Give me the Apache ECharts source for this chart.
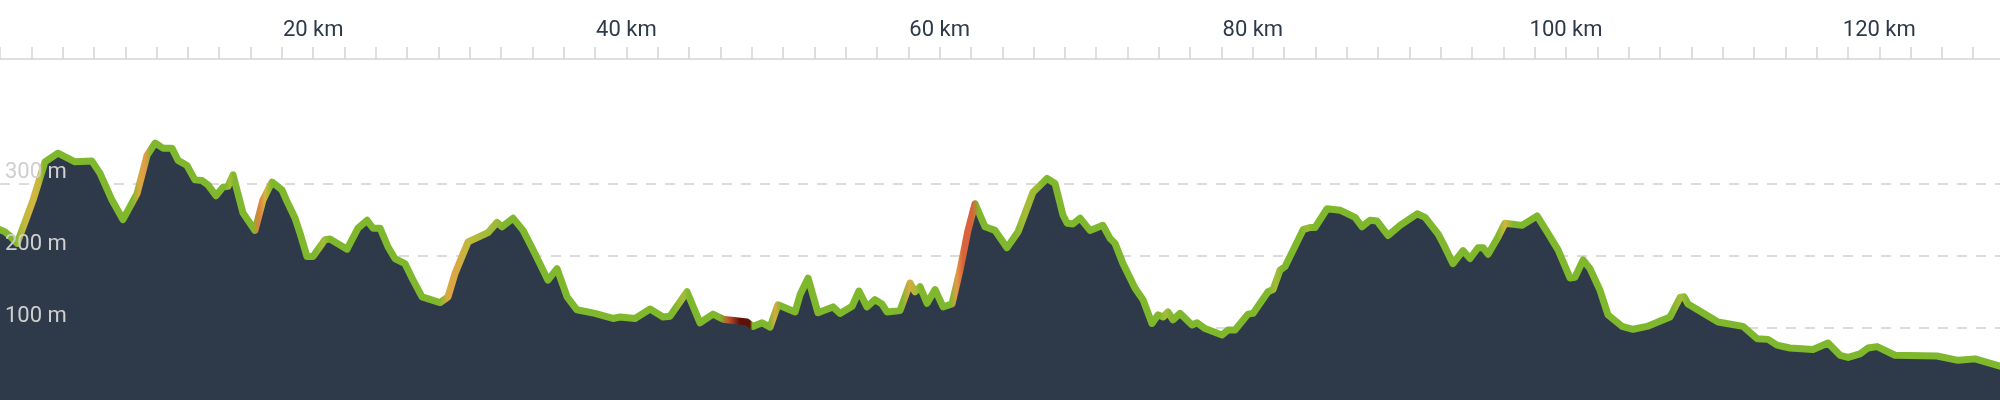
<!DOCTYPE html>
<html>
<head>
<meta charset="utf-8">
<script src="https://cdn.jsdelivr.net/npm/echarts@6/dist/echarts.min.js"></script>
<style>
html,body{margin:0;padding:0;background:#fff;}
#chart{width:2000px;height:400px;}
</style>
</head>
<body>
<div id="chart"></div>
<script>
// distance along route (km)
var distanceKm = [0,0.32,0.64,1.09,1.72,2.11,2.87,3.70,4.79,5.87,6.39,7.15,7.85,8.75,9.39,9.90,10.41,10.98,11.37,11.94,12.45,12.90,13.28,13.79,14.24,14.56,14.88,15.52,16.28,16.79,17.37,18.01,18.33,18.84,19.16,19.60,19.99,20.75,21.07,22.16,22.86,23.44,23.82,24.27,24.78,25.22,25.86,26.31,26.95,28.10,28.61,29.05,29.89,31.16,31.74,32.06,32.76,33.40,34.04,34.99,35.57,36.21,36.84,37.99,39.14,39.59,40.55,41.51,42.34,42.78,43.87,44.70,45.53,46.17,47.70,48.08,48.66,49.17,49.68,50.77,51.09,51.60,52.23,53.19,53.64,54.41,54.85,55.36,55.87,56.32,56.64,57.47,58.11,58.43,58.75,59.20,59.71,60.22,60.79,61.30,61.81,62.26,62.90,63.54,64.30,65.01,65.96,66.86,67.37,67.88,68.14,68.52,68.97,69.60,70.43,70.88,71.20,71.71,72.48,72.99,73.56,73.95,74.27,74.58,74.90,75.35,76.12,76.44,76.95,78.03,78.42,78.86,79.69,80.01,80.97,81.29,81.74,82.06,83.21,83.65,83.97,84.74,85.57,86.53,86.97,87.48,87.93,88.63,89.40,90.49,91.00,91.83,92.15,92.78,93.42,93.87,94.38,94.70,95.02,95.66,96.10,97.19,98.15,98.79,99.49,100.26,100.57,101.09,101.53,102.17,102.68,103.58,104.28,105.17,106.64,107.28,107.54,107.79,109.71,111.30,112.20,112.90,113.47,114.30,115.77,116.73,117.50,118.01,118.77,119.28,119.86,121.01,123.69,125.03,126.12,127.71];
// elevation (m)
var elevationM = [236,233,227,217,254,277,330,342,330,331,314,277,250,286,339,356,349,349,332,325,305,304,298,283,295,296,312,259,235,277,302,291,275,252,231,199,199,222,223,209,238,249,238,238,212,196,189,169,143,135,143,175,219,232,246,240,252,235,208,166,182,143,125,120,113,115,113,126,115,116,150,107,119,112,108,102,107,101,132,122,146,169,121,129,120,130,151,129,139,133,122,124,162,150,157,134,153,129,133,180,235,272,240,235,211,233,288,307,300,256,245,244,252,235,242,224,217,189,155,139,106,118,115,122,111,120,104,107,99,90,97,97,119,120,150,153,180,185,236,239,239,265,263,253,240,249,248,228,242,258,253,230,217,189,207,196,211,211,202,226,245,242,255,233,208,169,170,194,182,152,118,102,98,102,115,142,143,133,108,102,85,84,76,72,70,79,62,59,64,72,74,62,61,55,57,47];
// grade (%): [km, grade]
var gradeKm =  [0,1.1,1.7,2.3,2.8,3.0,8.6,9.1,9.5,9.8,14.6,14.85,15.1,16.3,16.7,17.1,17.5,20.3,20.8,21.2,28.2,28.7,29.3,30.0,31.0,31.8,32.2,43.1,43.7,44.0,46.0,46.6,47.3,47.95,48.1,49.2,49.55,49.9,57.6,58.1,58.5,58.8,60.7,61.1,61.5,62.1,62.5,64.7,65.5,66.2,66.6,74.0,74.4,74.8,80.9,81.4,81.8,83.0,83.4,83.8,95.5,96.0,96.5,106.6,107.2,107.6,127.71];
var gradePct = [0,0,5,6,5,0,0,7,8,0,0,4,0,0,9,6,0,0,4,0,0,7,7,5,4,3,0,0,4,0,0,12,25,25,0,0,7,0,0,7,4,0,0,8,10,10,0,0,4,3,0,0,4,0,0,4,0,0,3,0,0,6,0,0,4,0,0];
// axis ticks and labels
var yTicks = [0,100,200,300,400];
var yLabelValues = [100,200,300];
var xTickValues = [0,2,4,6,8,10,12,14,16,18,20,22,24,26,28,30,32,34,36,38,40,42,44,46,48,50,52,54,56,58,60,62,64,66,68,70,72,74,76,78,80,82,84,86,88,90,92,94,96,98,100,102,104,106,108,110,112,114,116,118,120,122,124,126];
var xLabelValues = [20,40,60,80,100,120];

var gradeScale = [[0,'#7fb82c'],[4,'#a7bb37'],[6,'#d2b640'],[8,'#e29a44'],[10,'#d9643c'],[15,'#9c3418'],[25,'#5c1208']];
function hex2rgb(h){return [parseInt(h.substr(1,2),16),parseInt(h.substr(3,2),16),parseInt(h.substr(5,2),16)];}
function gradeColor(g){
  if (g <= gradeScale[0][0]) return gradeScale[0][1];
  for (var i=1;i<gradeScale.length;i++){
    if (g <= gradeScale[i][0]){
      var a=gradeScale[i-1], b=gradeScale[i];
      var t=(g-a[0])/(b[0]-a[0]);
      var ca=hex2rgb(a[1]), cb=hex2rgb(b[1]);
      return 'rgb('+Math.round(ca[0]+(cb[0]-ca[0])*t)+','+Math.round(ca[1]+(cb[1]-ca[1])*t)+','+Math.round(ca[2]+(cb[2]-ca[2])*t)+')';
    }
  }
  return gradeScale[gradeScale.length-1][1];
}
var maxKm = distanceKm[distanceKm.length-1];
var stops = gradeKm.map(function(k,i){return {offset: Math.min(1,k/maxKm), color: gradeColor(gradePct[i])};});

var data = distanceKm.map(function(d,i){return [d, elevationM[i]];});

var gridTop = 400 - 400*0.7217;
var chart = echarts.init(document.getElementById('chart'), null, {renderer:'canvas'});
chart.setOption({
  animation:false,
  backgroundColor:'#ffffff',
  grid:{left:0,right:0,top:gridTop,bottom:0,containLabel:false},
  xAxis:{
    type:'value', position:'top', offset: gridTop-59,
    min:0, max:maxKm, interval:2,
    axisLine:{show:true, onZero:false, lineStyle:{color:'#d4d4d4', width:1.5}},
    axisTick:{show:true, length:12, customValues:xTickValues, lineStyle:{color:'#d4d4d4', width:1.5}},
    axisLabel:{
      show:true, margin:18, color:'#2e3a4a', fontSize:22, fontFamily:'Roboto',
      customValues:xLabelValues,
      formatter:function(v){return Math.round(v)+' km';}
    },
    splitLine:{show:false}
  },
  yAxis:[{
    type:'value', position:'left', min:yTicks[0], max:yTicks[yTicks.length-1], interval:100, z:0,
    axisLine:{show:false}, axisTick:{show:false}, axisLabel:{show:false},
    splitLine:{show:true, showMinLine:false, showMaxLine:false, lineStyle:{color:'#dcdcdc', width:2, type:[10,9]}}
  },{
    type:'value', position:'left', offset:0, min:yTicks[0], max:yTicks[yTicks.length-1], interval:100, z:10,
    axisLine:{show:false}, axisTick:{show:false}, splitLine:{show:false},
    axisLabel:{show:true, inside:true, margin:5, color:'#cfcfcf', fontSize:22, fontFamily:'Roboto',
      verticalAlign:'bottom', align:'left', customValues:yLabelValues,
      formatter:function(v){return v+' m';}}
  }],
  series:[{
    type:'line', data:data, yAxisIndex:0, showSymbol:false, smooth:false, z:2,
    lineStyle:{width:7, join:'round', cap:'round', color:{type:'linear',x:0,y:0,x2:1,y2:0,colorStops:stops}},
    areaStyle:{color:'#2e3a4a', opacity:1},
    clip:false
  }]
});
</script>
</body>
</html>
